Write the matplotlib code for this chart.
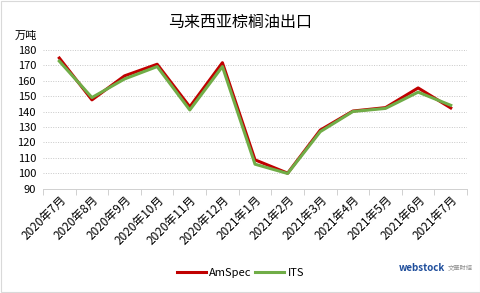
import matplotlib
matplotlib.use("Agg")
import matplotlib.pyplot as plt
import numpy as np

plt.rcParams['font.family'] = ['Noto Sans CJK SC', 'DejaVu Sans']

categories = ["2020年7月", "2020年8月", "2020年9月", "2020年10月", "2020年11月", "2020年12月",
              "2021年1月", "2021年2月", "2021年3月", "2021年4月", "2021年5月", "2021年6月", "2021年7月"]
amspec = [174.5, 147.5, 163, 170.5, 143, 171.5, 108.8, 100.2, 128, 140.3, 142.5, 155.2, 142.3]
its = [172.5, 149, 161, 169, 141, 169, 106, 100, 127, 140, 142, 152.5, 144]
yticks = [90, 100, 110, 120, 130, 140, 150, 160, 170, 180]

fig = plt.figure(figsize=(4.81, 2.93), dpi=100)
ax = fig.add_axes([0.0894, 0.355, 0.8816, 0.476])

x = np.arange(len(categories))
ax.plot(x, amspec, color='#C00000', lw=2.2, label='AmSpec', zorder=3)
ax.plot(x, its, color='#70AD47', lw=2.2, label='ITS', zorder=4)

ax.set_xlim(-0.5, len(categories) - 0.5)
ax.set_ylim(90, 180)
ax.set_yticks(yticks)
ax.tick_params(axis='y', length=0, labelsize=8, pad=5, colors='#000000')
ax.yaxis.grid(True, linestyle=(0, (1, 1.5)), color='#C8C8C8', lw=0.7)
ax.set_axisbelow(True)

ax.set_xticks(x)
ax.set_xticklabels(categories, rotation=45, ha='right', rotation_mode='anchor', fontsize=8.5)
ax.tick_params(axis='x', length=0, pad=3)
ax.set_xticks(np.arange(-0.5, len(categories) + 0.5, 1), minor=True)
ax.tick_params(axis='x', which='minor', length=4, color='#D0D0D0', width=0.7)

for s in ['top', 'right', 'left']:
    ax.spines[s].set_visible(False)
ax.spines['bottom'].set_color('#D0D0D0')
ax.spines['bottom'].set_linewidth(0.7)

fig.text(0.5, 0.922, "马来西亚棕榈油出口", ha='center', va='center', fontsize=11.5)
fig.text(0.03, 0.878, "万吨", ha='left', va='center', fontsize=8)

fig.legend(loc='center', bbox_to_anchor=(0.5, 0.068), ncol=2, frameon=False,
           fontsize=8, handlelength=2.6, handletextpad=0.3, columnspacing=0.3)

fig.text(0.83, 0.085, "webstock", color='#1F4E9C', fontsize=7, fontweight='bold', ha='left', va='center')
fig.text(0.93, 0.085, "文華財經", color='#909090', fontsize=4.5, ha='left', va='center')

fig.patches.append(plt.Rectangle((0.002, 0.003), 0.995, 0.994, transform=fig.transFigure,
                                 fill=False, edgecolor='#D9D9D9', lw=0.8))

fig.savefig("out.png", dpi=100)
